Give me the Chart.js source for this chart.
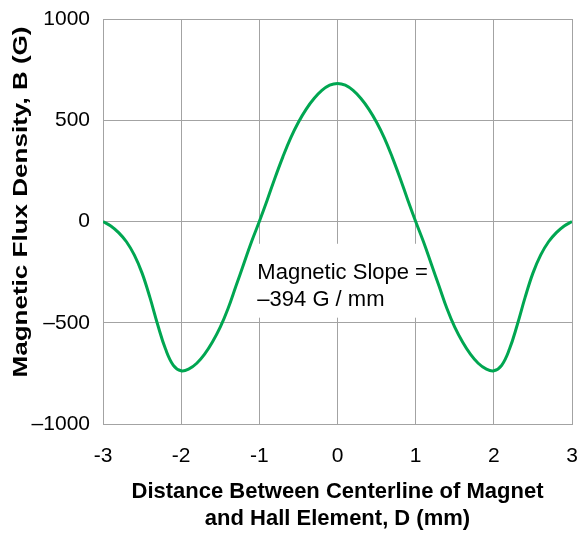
<!DOCTYPE html>
<html>
<head>
<meta charset="utf-8">
<script src="https://cdn.jsdelivr.net/npm/chart.js@4/dist/chart.umd.min.js"></script>
<style>
  html, body { margin: 0; padding: 0; background: #fff; overflow: hidden; }
  #wrap { width: 582px; height: 534px; }
  canvas { display: block; }
</style>
</head>
<body>
<div id="wrap"><canvas id="fluxChart"></canvas></div>
<script>
// distance D (mm) and flux density B (G)
const distance = [
  -3.0, -2.9, -2.8, -2.7, -2.6, -2.5, -2.4, -2.3, -2.2, -2.1,
  -2.0, -1.9, -1.8, -1.7, -1.6, -1.5, -1.4, -1.3, -1.2, -1.1,
  -1.0, -0.9, -0.8, -0.7, -0.6, -0.5, -0.4, -0.3, -0.2, -0.1,
   0.0,  0.1,  0.2,  0.3,  0.4,  0.5,  0.6,  0.7,  0.8,  0.9,
   1.0,  1.1,  1.2,  1.3,  1.4,  1.5,  1.6,  1.7,  1.8,  1.9,
   2.0,  2.1,  2.2,  2.3,  2.4,  2.5,  2.6,  2.7,  2.8,  2.9,
   3.0
];
const fluxDensity = [
     0,  -22,  -55, -100, -165, -255, -375, -510, -630, -710,
  -737, -728, -700, -655, -595, -522, -430, -320, -210, -100,
     0,  105,  215,  318,  412,  490,  555,  607,  647,  673,
   682,  673,  647,  607,  555,  490,  412,  318,  215,  105,
     0, -100, -210, -320, -430, -522, -595, -655, -700, -728,
  -737, -710, -630, -510, -375, -255, -165, -100,  -55,  -22,
     0
];
const xTicks = [-3, -2, -1, 0, 1, 2, 3];
const yTicks = [-1000, -500, 0, 500, 1000];
const yTickLabels = ["\u20131000", "\u2013500", "0", "500", "1000"];
const yTitle = "Magnetic Flux Density, B (G)";
const xTitle = ["Distance Between Centerline of Magnet", "and Hall Element, D (mm)"];
const noteLines = ["Magnetic Slope =", "\u2013394 G / mm"];

const green = "#00a651";
const gridGrey = "#a3a3a3";
const fontFamily = "'Liberation Sans', Arial, sans-serif";
Chart.defaults.font.family = fontFamily;
Chart.defaults.color = "#000";

// white box with the slope note, placed through the scales
const slopeNote = {
  id: "slopeNote",
  beforeDatasetsDraw(chart) {
    const { ctx, scales: { x, y } } = chart;
    const left = x.getPixelForValue(-1.1);
    const right = x.getPixelForValue(1.1);
    const top = y.getPixelForValue(-110);
    const bottom = y.getPixelForValue(-475);
    ctx.save();
    ctx.fillStyle = "#fff";
    ctx.fillRect(left, top, right - left, bottom - top);
    ctx.fillStyle = "#000";
    ctx.font = "22px " + fontFamily;
    ctx.textBaseline = "alphabetic";
    const tx = x.getPixelForValue(-1) - 2;
    ctx.fillText(noteLines[0], tx, y.getPixelForValue(-286));
    ctx.fillText(noteLines[1], tx, y.getPixelForValue(-419));
    ctx.restore();
  }
};

// the y title in the original is drawn a bit stretched along its length
const yAxisTitle = {
  id: "yAxisTitle",
  afterDraw(chart) {
    const ctx = chart.ctx;
    ctx.save();
    ctx.font = "bold 21px " + fontFamily;
    const w = ctx.measureText(yTitle).width;
    ctx.translate(27, 202);
    ctx.rotate(-Math.PI / 2);
    ctx.scale(351 / w, 1);
    ctx.fillStyle = "#000";
    ctx.textAlign = "center";
    ctx.textBaseline = "alphabetic";
    ctx.fillText(yTitle, 0, 0);
    ctx.restore();
  }
};

const points = distance.map((d, i) => ({ x: d, y: fluxDensity[i] }));

new Chart(document.getElementById("fluxChart"), {
  type: "line",
  data: {
    datasets: [{
      data: points,
      borderColor: green,
      borderWidth: 3,
      pointRadius: 0,
      tension: 0.4,
      fill: false
    }]
  },
  options: {
    responsive: true,
    maintainAspectRatio: false,
    animation: false,
    events: [],
    layout: { padding: { top: 19, right: 10, left: 0, bottom: 0 } },
    plugins: { legend: { display: false }, tooltip: { enabled: false } },
    scales: {
      x: {
        type: "linear",
        min: -3,
        max: 3,
        afterFit: s => { s.height = 110; s.paddingLeft = 0; s.paddingRight = 0; },
        afterBuildTicks: s => { s.ticks = xTicks.map(v => ({ value: v })); },
        grid: { color: gridGrey, drawTicks: false },
        border: { color: gridGrey },
        ticks: { padding: 20, font: { size: 21 }, callback: v => String(v) },
        title: {
          display: true,
          text: xTitle,
          font: { size: 22, weight: "bold", lineHeight: 1.2 },
          padding: { top: 0, bottom: 2 }
        }
      },
      y: {
        min: -1000,
        max: 1000,
        afterFit: s => { s.width = 103; s.paddingTop = 0; s.paddingBottom = 0; },
        afterBuildTicks: s => { s.ticks = yTicks.map(v => ({ value: v })); },
        grid: { color: gridGrey, drawTicks: false },
        border: { color: gridGrey },
        ticks: {
          padding: 13,
          font: { size: 21 },
          callback: v => yTickLabels[yTicks.indexOf(v)]
        },
        title: { display: false }
      }
    }
  },
  plugins: [slopeNote, yAxisTitle]
});
</script>
</body>
</html>
